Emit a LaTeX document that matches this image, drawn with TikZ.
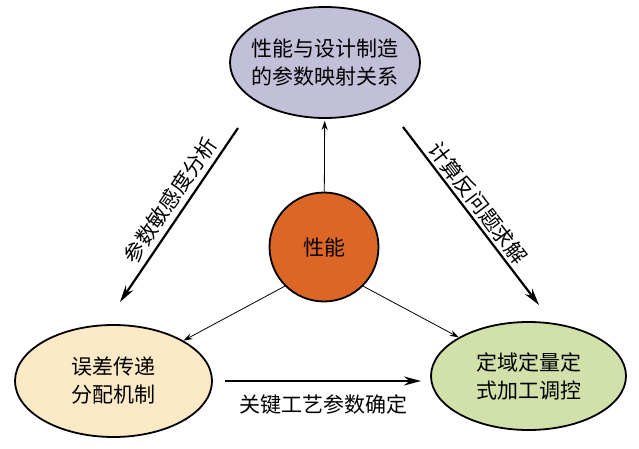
\documentclass[tikz,border=0pt]{standalone}
\usepackage{fontspec}
\setmainfont{Noto Sans CJK SC}
\usetikzlibrary{shapes,arrows.meta}
\definecolor{mapfill}{RGB}{194,191,216}
\definecolor{perffill}{RGB}{220,102,37}
\definecolor{errfill}{RGB}{252,233,198}
\definecolor{procfill}{RGB}{210,224,170}

\begin{document}
\begin{tikzpicture}[x=1pt,y=-1pt,
	bubble/.style={ellipse,draw,line width=1.8pt,inner sep=0pt,align=center,font=\fontsize{21}{28}\selectfont},
	thinarr/.style={line width=0.8pt,-{Stealth[length=9pt,width=6pt]}},
	bigarr/.style={line width=2.2pt,-{Stealth[length=17pt,width=9pt]}},
	lbl/.style={font=\fontsize{21}{26}\selectfont,inner sep=0pt}]
	\useasboundingbox (0,0) rectangle (639,449);

	% the four bubbles
	\node[bubble,fill=mapfill,minimum width=190pt,minimum height=111pt,inner xsep=-12pt] (map) at (325,62.5) {性能与设计制造\\的参数映射关系};
	\node[bubble,fill=errfill,minimum width=197pt,minimum height=112pt] (err) at (113.5,381) {误差传递\\分配机制};
	\node[bubble,fill=procfill,minimum width=195pt,minimum height=108pt] (proc) at (528.5,376) {定域定量定\\式加工调控};
	\node[circle,draw,line width=1.8pt,fill=perffill,minimum size=109pt,inner sep=0pt,font=\fontsize{21}{26}\selectfont] (perf) at (324,247) {性能};

	% thin arrows out of the circle
	\draw[thinarr,shorten >=2pt] (perf) -- (map);
	\draw[thinarr] (perf.-135) -- (err.30);
	\draw[thinarr] (perf.-45) -- (proc.151);

	% thick arrows round the triangle
	\coordinate (sensA) at (238,128);
	\coordinate (sensB) at (120,302);
	\coordinate (invA) at (403,127);
	\coordinate (invB) at (539,305);
	\coordinate (keyA) at (225,381);
	\coordinate (keyB) at (421,381);
	\draw[bigarr] (sensA) -- (sensB);
	\draw[bigarr] (invA) -- (invB);
	\draw[bigarr] (keyA) -- (keyB);

	\node[lbl,rotate=55.9] (sens) at (170,200) {参数敏感度分析};
	\node[lbl,rotate=-52.6] (inv) at (478,203) {计算反问题求解};
	\node[lbl] (key) at (323,404) {关键工艺参数确定};
\end{tikzpicture}
\end{document}
